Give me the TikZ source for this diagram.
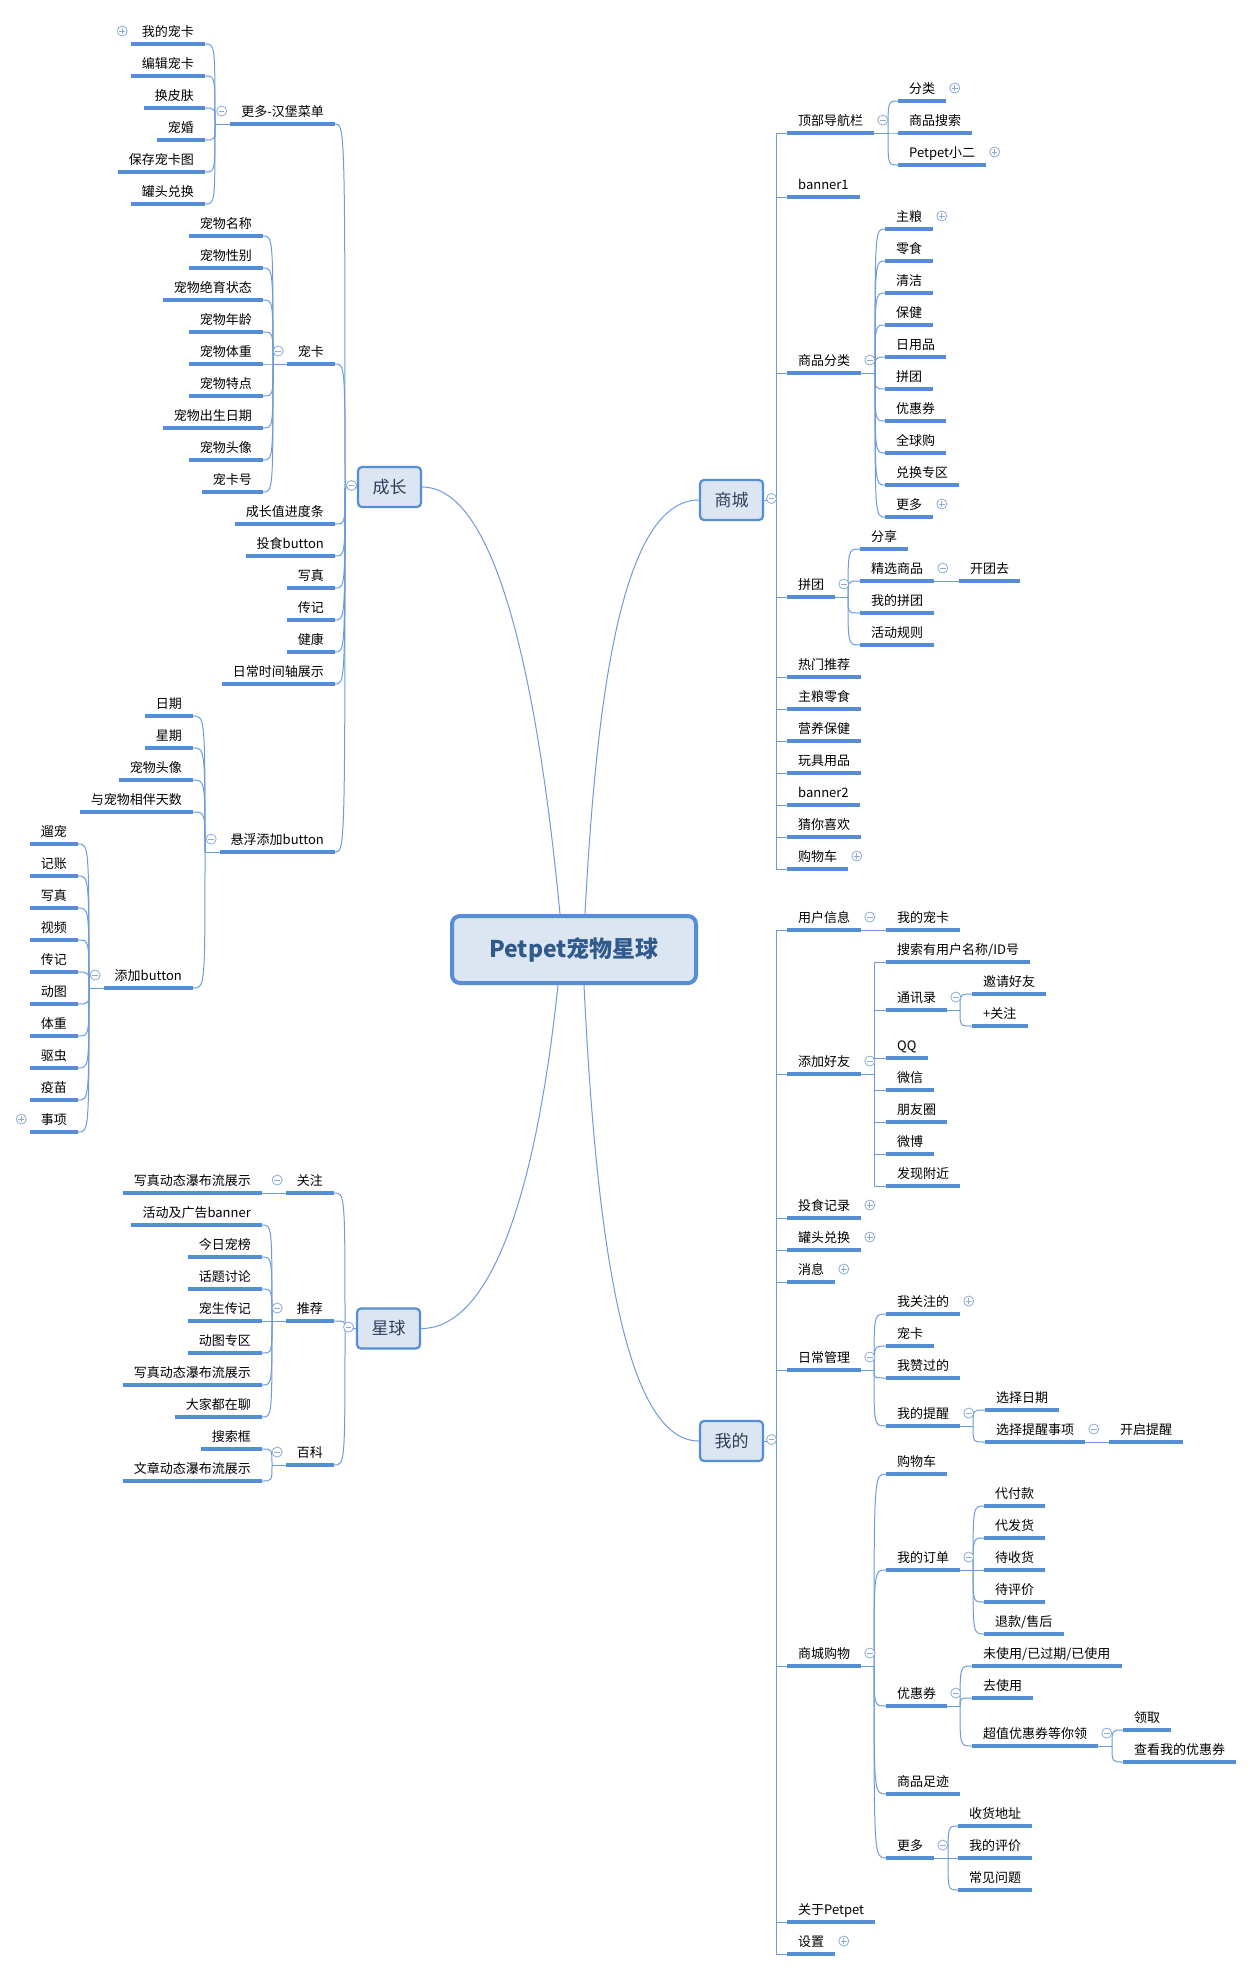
\documentclass[tikz,border=0pt]{standalone}
\usepackage{fontspec}
\setmainfont{Noto Sans CJK SC}
\usepackage{tikz}
\usetikzlibrary{positioning}
\definecolor{ulblue}{HTML}{558ED5}
\definecolor{linkc}{HTML}{6D9CDA}
\definecolor{foldc}{HTML}{8CAAD6}
\definecolor{topicbg}{HTML}{DCE6F2}
\definecolor{topictext}{HTML}{2E3F5C}
\definecolor{roottext}{HTML}{30598C}
\tikzstyle{ul}=[draw=ulblue,line width=3.2pt]
\tikzstyle{link}=[linkc,line width=1pt]
\tikzstyle{curvy}=[to path={.. controls (\tikztostart |- \tikztotarget) .. (\tikztotarget)}]
\tikzstyle{elbow}=[to path={|- (\tikztotarget)}]
\tikzstyle{leaf}=[font=\fontsize{13}{15}\selectfont,text=black,text height=10pt,text depth=2.5pt,inner xsep=11pt,inner ysep=5pt,
  append after command={\pgfextra{\let\ulnode\tikzlastnode}(\ulnode.south west) edge[ul] (\ulnode.south east)}]
\tikzstyle{lnode}=[leaf,anchor=south east]
\tikzstyle{rnode}=[leaf,anchor=south west]
\tikzstyle{topic}=[draw=ulblue,line width=2.2pt,fill=topicbg,rounded corners=4pt,minimum width=63pt,minimum height=40pt,font=\fontsize{17}{20}\selectfont,text=topictext]
\tikzstyle{rootnode}=[draw=ulblue,line width=4pt,fill=topicbg,rounded corners=8pt,minimum width=244pt,minimum height=67pt,font=\fontsize{23}{27}\selectfont\bfseries,text=roottext]
\tikzstyle{fm}=[circle,draw=foldc,fill=white,line width=0.8pt,minimum size=10pt,inner sep=0pt,yshift=1.5pt,
  path picture={\draw[foldc,line width=0.8pt] ([xshift=-2.8pt]path picture bounding box.center) -- ([xshift=2.8pt]path picture bounding box.center);}]
\tikzstyle{fp}=[fm,path picture={\draw[foldc,line width=0.8pt] ([xshift=-2.8pt]path picture bounding box.center) -- ([xshift=2.8pt]path picture bounding box.center) ([yshift=-2.8pt]path picture bounding box.center) -- ([yshift=2.8pt]path picture bounding box.center);}]

\begin{document}
\begin{tikzpicture}[x=1pt,y=-1pt]
\fill[white] (0,0) rectangle (1254,1971);
\useasboundingbox (0,0) rectangle (1254,1971);

\node[rootnode] (root) at (574,949.5) {Petpet宠物星球};
\node[topic] (cz) at (389.5,487) {成长};
\node[topic] (xq) at (388.5,1328.5) {星球};
\node[topic] (sc) at (731.5,500) {商城};
\node[topic] (wd) at (731.5,1441) {我的};
\coordinate (rta) at ([xshift=-14pt]root.north);
\coordinate (rtb) at ([xshift=11pt]root.north);
\coordinate (rba) at ([xshift=-16pt]root.south);
\coordinate (rbb) at ([xshift=10pt]root.south);

\coordinate (czf) at (345,488);
\node[lnode] (menu) at (335,124) {更多-汉堡菜单};
\node[lnode] (card) at (335,364) {宠卡};
\node[lnode] (growbar) at (335,524) {成长值进度条};
\node[lnode] (feedbtn) at (335,556) {投食button};
\node[lnode] (photo) at (335,588) {写真};
\node[lnode] (bio) at (335,620) {传记};
\node[lnode] (health) at (335,652) {健康};
\node[lnode] (timeline) at (335,684) {日常时间轴展示};
\node[lnode] (floatbtn) at (335,852) {悬浮添加button};

\coordinate (menuf) at (215,124);
\node[lnode] (mycard) at (205,44) {我的宠卡};
\node[lnode] (editcard) at (205,76) {编辑宠卡};
\node[lnode] (skin) at (205,108) {换皮肤};
\node[lnode] (wedding) at (205,140) {宠婚};
\node[lnode] (savecard) at (205,172) {保存宠卡图};
\node[lnode] (canex) at (205,204) {罐头兑换};

\coordinate (cardf) at (273,364);
\node[lnode] (petname) at (263,236) {宠物名称};
\node[lnode] (petsex) at (263,268) {宠物性别};
\node[lnode] (petneuter) at (263,300) {宠物绝育状态};
\node[lnode] (petage) at (263,332) {宠物年龄};
\node[lnode] (petweight) at (263,364) {宠物体重};
\node[lnode] (petfeature) at (263,396) {宠物特点};
\node[lnode] (petbirth) at (263,428) {宠物出生日期};
\node[lnode] (petavatar) at (263,460) {宠物头像};
\node[lnode] (cardno) at (263,492) {宠卡号};

\coordinate (floatf) at (205,852);
\node[lnode] (date) at (193,716) {日期};
\node[lnode] (week) at (193,748) {星期};
\node[lnode] (favatar) at (193,780) {宠物头像};
\node[lnode] (days) at (193,812) {与宠物相伴天数};
\node[lnode] (addbtn) at (193,988) {添加button};

\coordinate (addf) at (89,988);
\node[lnode] (walk) at (78,844) {遛宠};
\node[lnode] (account) at (78,876) {记账};
\node[lnode] (aphoto) at (78,908) {写真};
\node[lnode] (video) at (78,940) {视频};
\node[lnode] (abio) at (78,972) {传记};
\node[lnode] (gif) at (78,1004) {动图};
\node[lnode] (aweight) at (78,1036) {体重};
\node[lnode] (deworm) at (78,1068) {驱虫};
\node[lnode] (vaccine) at (78,1100) {疫苗};
\node[lnode] (matter) at (78,1132) {事项};

\coordinate (xqf) at (345,1329);
\node[lnode] (follow) at (334,1193) {关注};
\node[lnode] (recommend) at (334,1321) {推荐};
\node[lnode] (wiki) at (334,1465) {百科};
\node[lnode] (fwaterfall) at (262,1193) {写真动态瀑布流展示};
\coordinate (recf) at (272,1321);
\node[lnode] (banner) at (262,1225) {活动及广告banner};
\node[lnode] (rank) at (262,1257) {今日宠榜};
\node[lnode] (talk) at (262,1289) {话题讨论};
\node[lnode] (petbio) at (262,1321) {宠生传记};
\node[lnode] (gifzone) at (262,1353) {动图专区};
\node[lnode] (rwaterfall) at (262,1385) {写真动态瀑布流展示};
\node[lnode] (chat) at (262,1417) {大家都在聊};
\coordinate (wikif) at (272,1465);
\node[lnode] (search) at (262,1449) {搜索框};
\node[lnode] (article) at (262,1481) {文章动态瀑布流展示};

\coordinate (scf) at (776,500);
\node[rnode] (topnav) at (787,133) {顶部导航栏};
\node[rnode] (banner1) at (787,197) {banner1};
\node[rnode] (goodscat) at (787,373) {商品分类};
\node[rnode] (group) at (787,597) {拼团};
\node[rnode] (hot) at (787,677) {热门推荐};
\node[rnode] (food) at (787,709) {主粮零食};
\node[rnode] (care) at (787,741) {营养保健};
\node[rnode] (toys) at (787,773) {玩具用品};
\node[rnode] (banner2) at (787,805) {banner2};
\node[rnode] (guess) at (787,837) {猜你喜欢};
\node[rnode] (cart) at (787,869) {购物车};

\coordinate (topnavf) at (888,133);
\node[rnode] (cat) at (898,101) {分类};
\node[rnode] (gsearch) at (898,133) {商品搜索};
\node[rnode] (xiaoer) at (898,165) {Petpet小二};
\coordinate (goodscatf) at (875,373);
\node[rnode] (staple) at (885,229) {主粮};
\node[rnode] (snack) at (885,261) {零食};
\node[rnode] (clean) at (885,293) {清洁};
\node[rnode] (healthcare) at (885,325) {保健};
\node[rnode] (daily) at (885,357) {日用品};
\node[rnode] (gbuy) at (885,389) {拼团};
\node[rnode] (coupon) at (885,421) {优惠券};
\node[rnode] (global) at (885,453) {全球购};
\node[rnode] (exchange) at (885,485) {兑换专区};
\node[rnode] (catmore) at (885,517) {更多};
\coordinate (groupf) at (848,597);
\node[rnode] (share) at (860,549) {分享};
\node[rnode] (picked) at (860,581) {精选商品};
\node[rnode] (mygroup) at (860,613) {我的拼团};
\node[rnode] (rules) at (860,645) {活动规则};
\node[rnode] (open) at (959,581) {开团去};

\coordinate (wdf) at (776,1441);
\node[rnode] (userinfo) at (787,930) {用户信息};
\node[rnode] (addfriend) at (787,1074) {添加好友};
\node[rnode] (feedlog) at (787,1218) {投食记录};
\node[rnode] (canex2) at (787,1250) {罐头兑换};
\node[rnode] (msg) at (787,1282) {消息};
\node[rnode] (manage) at (787,1370) {日常管理};
\node[rnode] (shopping) at (787,1666) {商城购物};
\node[rnode] (about) at (787,1922) {关于Petpet};
\node[rnode] (settings) at (787,1954) {设置};

\node[rnode] (mycard2) at (886,930) {我的宠卡};
\coordinate (addfriendf) at (874,1074);
\node[rnode] (idsearch) at (886,962) {搜索有用户名称/ID号};
\node[rnode] (contacts) at (886,1010) {通讯录};
\node[rnode] (qq) at (886,1058) {QQ};
\node[rnode] (wechat) at (886,1090) {微信};
\node[rnode] (moments) at (886,1122) {朋友圈};
\node[rnode] (weibo) at (886,1154) {微博};
\node[rnode] (nearby) at (886,1186) {发现附近};
\coordinate (contactsf) at (960,1010);
\node[rnode] (invite) at (972,994) {邀请好友};
\node[rnode] (plusfollow) at (972,1026) {+关注};
\coordinate (managef) at (874,1370);
\node[rnode] (myfollow) at (886,1314) {我关注的};
\node[rnode] (card2) at (886,1346) {宠卡};
\node[rnode] (liked) at (886,1378) {我赞过的};
\node[rnode] (remind) at (886,1426) {我的提醒};
\coordinate (remindf) at (973,1426);
\node[rnode] (pickdate) at (985,1410) {选择日期};
\node[rnode] (pickitem) at (985,1442) {选择提醒事项};
\node[rnode] (remindon) at (1109,1442) {开启提醒};
\coordinate (shoppingf) at (874,1666);
\node[rnode] (cart2) at (886,1474) {购物车};
\node[rnode] (orders) at (886,1570) {我的订单};
\node[rnode] (coupon2) at (886,1706) {优惠券};
\node[rnode] (footprint) at (886,1794) {商品足迹};
\node[rnode] (more2) at (886,1858) {更多};
\coordinate (ordersf) at (973,1570);
\node[rnode] (topay) at (984,1506) {代付款};
\node[rnode] (toship) at (984,1538) {代发货};
\node[rnode] (toreceive) at (984,1570) {待收货};
\node[rnode] (toreview) at (984,1602) {待评价};
\node[rnode] (refund) at (984,1634) {退款/售后};
\coordinate (coupon2f) at (960,1706);
\node[rnode] (cstate) at (972,1666) {未使用/已过期/已使用};
\node[rnode] (cuse) at (972,1698) {去使用};
\node[rnode] (cget) at (972,1746) {超值优惠券等你领};
\coordinate (cgetf) at (1112,1746);
\node[rnode] (claim) at (1123,1730) {领取};
\node[rnode] (mycoupons) at (1123,1762) {查看我的优惠券};
\coordinate (more2f) at (948,1858);
\node[rnode] (address) at (958,1826) {收货地址};
\node[rnode] (myreview) at (958,1858) {我的评价};
\node[rnode] (faq) at (958,1890) {常见问题};

\draw[link] (cz.east) .. controls +(75,0) and +(-22,-230) .. (rta);
\draw[link] (rtb) .. controls +(12,-230) and +(-75,0) .. (sc.west);
\draw[link] (xq.east) .. controls +(75,0) and +(-20,190) .. (rba);
\draw[link] (rbb) .. controls +(12,250) and +(-75,0) .. (wd.west);

\draw[link] (cz.west) -- (czf) edge[curvy] (menu.south east) edge[curvy] (card.south east)
  edge[curvy] (growbar.south east) edge[curvy] (feedbtn.south east) edge[curvy] (photo.south east)
  edge[curvy] (bio.south east) edge[curvy] (health.south east) edge[curvy] (timeline.south east)
  edge[curvy] (floatbtn.south east);
\draw[link] (menu.south west) -- (menuf) edge[curvy] (mycard.south east) edge[curvy] (editcard.south east)
  edge[curvy] (skin.south east) edge[curvy] (wedding.south east) edge[curvy] (savecard.south east)
  edge[curvy] (canex.south east);
\draw[link] (card.south west) -- (cardf) edge[curvy] (petname.south east) edge[curvy] (petsex.south east)
  edge[curvy] (petneuter.south east) edge[curvy] (petage.south east) edge[curvy] (petweight.south east)
  edge[curvy] (petfeature.south east) edge[curvy] (petbirth.south east) edge[curvy] (petavatar.south east)
  edge[curvy] (cardno.south east);
\draw[link] (floatbtn.south west) -- (floatf) edge[curvy] (date.south east) edge[curvy] (week.south east)
  edge[curvy] (favatar.south east) edge[curvy] (days.south east) edge[curvy] (addbtn.south east);
\draw[link] (addbtn.south west) -- (addf) edge[curvy] (walk.south east) edge[curvy] (account.south east)
  edge[curvy] (aphoto.south east) edge[curvy] (video.south east) edge[curvy] (abio.south east)
  edge[curvy] (gif.south east) edge[curvy] (aweight.south east) edge[curvy] (deworm.south east)
  edge[curvy] (vaccine.south east) edge[curvy] (matter.south east);

\draw[link] (xq.west) -- (xqf) edge[curvy] (follow.south east) edge[curvy] (recommend.south east)
  edge[curvy] (wiki.south east);
\draw[link] (follow.south west) -- (fwaterfall.south east);
\draw[link] (recommend.south west) -- (recf) edge[curvy] (banner.south east) edge[curvy] (rank.south east)
  edge[curvy] (talk.south east) edge[curvy] (petbio.south east) edge[curvy] (gifzone.south east)
  edge[curvy] (rwaterfall.south east) edge[curvy] (chat.south east);
\draw[link] (wiki.south west) -- (wikif) edge[curvy] (search.south east) edge[curvy] (article.south east);

\draw[link] (sc.east) -- (scf) edge[elbow] (topnav.south west) edge[elbow] (banner1.south west)
  edge[elbow] (goodscat.south west) edge[elbow] (group.south west) edge[elbow] (hot.south west)
  edge[elbow] (food.south west) edge[elbow] (care.south west) edge[elbow] (toys.south west)
  edge[elbow] (banner2.south west) edge[elbow] (guess.south west) edge[elbow] (cart.south west);
\draw[link] (topnav.south east) -- (topnavf) edge[curvy] (cat.south west) edge[curvy] (gsearch.south west)
  edge[curvy] (xiaoer.south west);
\draw[link] (goodscat.south east) -- (goodscatf) edge[curvy] (staple.south west) edge[curvy] (snack.south west)
  edge[curvy] (clean.south west) edge[curvy] (healthcare.south west) edge[curvy] (daily.south west)
  edge[curvy] (gbuy.south west) edge[curvy] (coupon.south west) edge[curvy] (global.south west)
  edge[curvy] (exchange.south west) edge[curvy] (catmore.south west);
\draw[link] (group.south east) -- (groupf) edge[curvy] (share.south west) edge[curvy] (picked.south west)
  edge[curvy] (mygroup.south west) edge[curvy] (rules.south west);
\draw[link] (picked.south east) -- (open.south west);

\draw[link] (wd.east) -- (wdf) edge[elbow] (userinfo.south west) edge[elbow] (addfriend.south west)
  edge[elbow] (feedlog.south west) edge[elbow] (canex2.south west) edge[elbow] (msg.south west)
  edge[elbow] (manage.south west) edge[elbow] (shopping.south west) edge[elbow] (about.south west)
  edge[elbow] (settings.south west);
\draw[link] (userinfo.south east) -- (mycard2.south west);
\draw[link] (addfriend.south east) -- (addfriendf) edge[elbow] (idsearch.south west) edge[elbow] (contacts.south west)
  edge[elbow] (qq.south west) edge[elbow] (wechat.south west) edge[elbow] (moments.south west)
  edge[elbow] (weibo.south west) edge[elbow] (nearby.south west);
\draw[link] (contacts.south east) -- (contactsf) edge[curvy] (invite.south west) edge[curvy] (plusfollow.south west);
\draw[link] (manage.south east) -- (managef) edge[curvy] (myfollow.south west) edge[curvy] (card2.south west)
  edge[curvy] (liked.south west) edge[curvy] (remind.south west);
\draw[link] (remind.south east) -- (remindf) edge[curvy] (pickdate.south west) edge[curvy] (pickitem.south west);
\draw[link] (pickitem.south east) -- (remindon.south west);
\draw[link] (shopping.south east) -- (shoppingf) edge[curvy] (cart2.south west) edge[curvy] (orders.south west)
  edge[curvy] (coupon2.south west) edge[curvy] (footprint.south west) edge[curvy] (more2.south west);
\draw[link] (orders.south east) -- (ordersf) edge[curvy] (topay.south west) edge[curvy] (toship.south west)
  edge[curvy] (toreceive.south west) edge[curvy] (toreview.south west) edge[curvy] (refund.south west);
\draw[link] (coupon2.south east) -- (coupon2f) edge[curvy] (cstate.south west) edge[curvy] (cuse.south west)
  edge[curvy] (cget.south west);
\draw[link] (cget.south east) -- (cgetf) edge[curvy] (claim.south west) edge[curvy] (mycoupons.south west);
\draw[link] (more2.south east) -- (more2f) edge[curvy] (address.south west) edge[curvy] (myreview.south west)
  edge[curvy] (faq.south west);

\node[fm,left=0pt of cz] (czm) {};
\node[fm,left=2pt of xq] (xqm) {};
\node[fm,right=2pt of sc] (scm) {};
\node[fm,right=2pt of wd] (wdm) {};
\node[fm,left=3pt of menu] (menum) {};
\node[fm,left=3pt of card] (cardm) {};
\node[fm,left=3pt of floatbtn] (floatm) {};
\node[fm,left=3pt of addbtn] (addm) {};
\node[fp,left=3pt of mycard] (mycardp) {};
\node[fp,left=3pt of matter] (matterp) {};
\node[fm,left=3pt of follow] (followm) {};
\node[fm,left=3pt of recommend] (recm) {};
\node[fm,left=3pt of wiki] (wikim) {};
\node[fm,right=3pt of topnav] (topnavm) {};
\node[fm,right=3pt of goodscat] (goodscatm) {};
\node[fm,right=3pt of group] (groupm) {};
\node[fp,right=3pt of cart] (cartp) {};
\node[fp,right=3pt of cat] (catp) {};
\node[fp,right=3pt of xiaoer] (xiaoerp) {};
\node[fp,right=3pt of staple] (staplep) {};
\node[fp,right=3pt of catmore] (catmorep) {};
\node[fm,right=3pt of picked] (pickedm) {};
\node[fm,right=3pt of userinfo] (userinfom) {};
\node[fm,right=3pt of addfriend] (addfriendm) {};
\node[fp,right=3pt of feedlog] (feedlogp) {};
\node[fp,right=3pt of canex2] (canex2p) {};
\node[fp,right=3pt of msg] (msgp) {};
\node[fm,right=3pt of manage] (managem) {};
\node[fm,right=3pt of shopping] (shoppingm) {};
\node[fp,right=3pt of settings] (settingsp) {};
\node[fm,right=3pt of contacts] (contactsm) {};
\node[fp,right=3pt of myfollow] (myfollowp) {};
\node[fm,right=3pt of remind] (remindm) {};
\node[fm,right=3pt of pickitem] (pickitemm) {};
\node[fm,right=3pt of orders] (ordersm) {};
\node[fm,right=3pt of coupon2] (coupon2m) {};
\node[fm,right=3pt of more2] (more2m) {};
\node[fm,right=3pt of cget] (cgetm) {};
\end{tikzpicture}
\end{document}
